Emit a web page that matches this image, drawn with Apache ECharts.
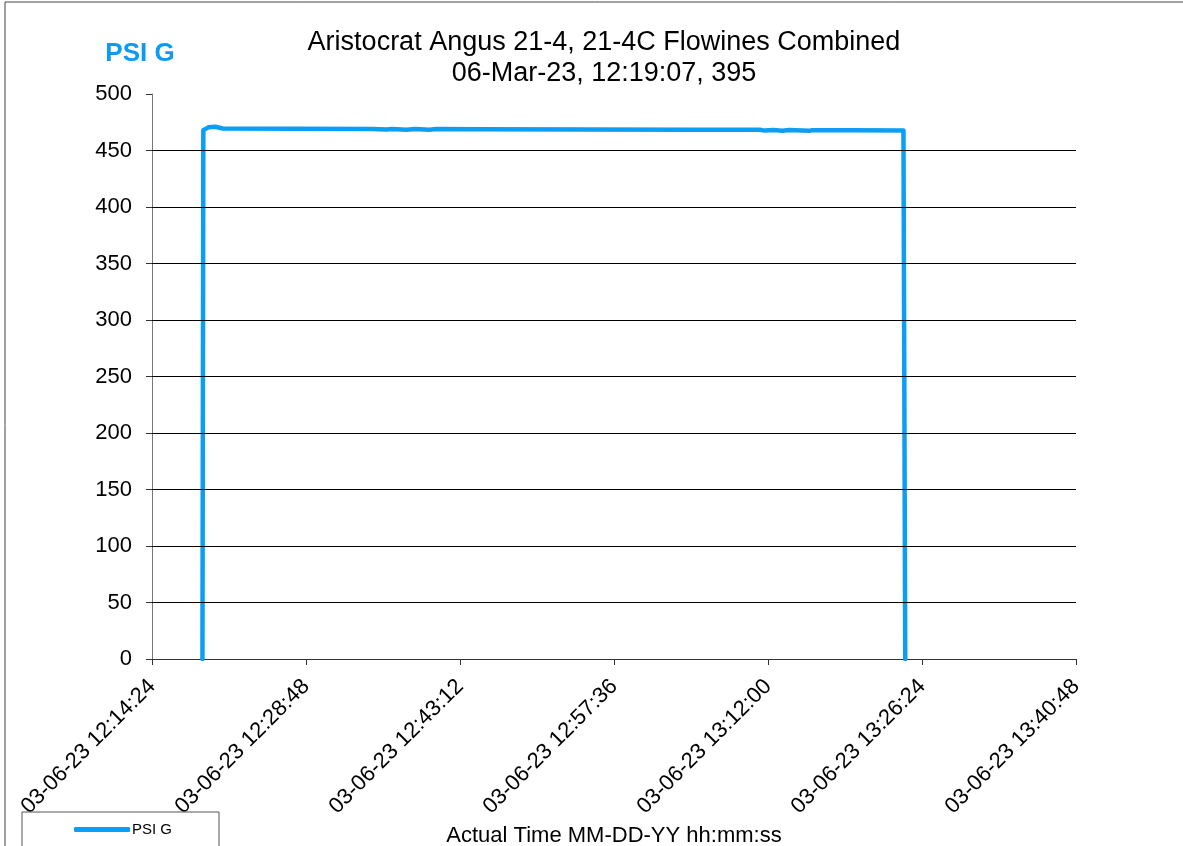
<!DOCTYPE html>
<html lang="en">
<head>
    <meta charset="UTF-8">
    <title>PSI G</title>
    <script src="https://cdn.jsdelivr.net/npm/echarts@6/dist/echarts.min.js"></script>
    <style>
        body { margin: 0; background: #fff; }
        #chartmain { width: 1183px; height: 846px; }
    </style>
</head>
<body>
<div id="chartmain"></div>
<script type="text/javascript">
    // readings taken off the recorder trace (time of day, psi)
    var times = ['12:19:07', '12:19:12', '12:19:40', '12:20:20', '12:21:00', '12:28:00', '12:35:00',
        '12:36:20', '12:36:50', '12:38:10', '12:39:00', '12:40:20', '12:41:00', '12:45:00',
        '12:55:00', '13:05:00', '13:11:15', '13:11:40', '13:12:30', '13:13:20', '13:14:00',
        '13:15:50', '13:16:10', '13:20:00', '13:24:40', '13:24:50'];
    var psi = [0, 468, 470.5, 471, 469.5, 469.3, 469.1,
        468.5, 469, 468.4, 469, 468.3, 469, 468.7,
        468.6, 468.4, 468.3, 467.6, 468.2, 467.5, 468.1,
        467.4, 468, 467.9, 467.7, 0];
    var yGrid = [50, 100, 150, 200, 250, 300, 350, 400, 450];
    var xMin = '12:14:24', xMax = '13:40:48', xStep = 864; // seconds
    var datePrefix = '03-06-23 ';

    function toSec(s) {
        var p = s.split(':');
        return (+p[0]) * 3600 + (+p[1]) * 60 + (+p[2]);
    }
    function pad(n) { return (n < 10 ? '0' : '') + n; }
    function fmt(v) {
        var h = Math.floor(v / 3600), m = Math.floor((v % 3600) / 60), s = Math.round(v % 60);
        return datePrefix + pad(h) + ':' + pad(m) + ':' + pad(s);
    }

    var pts = [];
    for (var i = 0; i < times.length; i++) {
        pts.push([toSec(times[i]), psi[i]]);
    }
    var gridMarks = [];
    for (var j = 0; j < yGrid.length; j++) {
        gridMarks.push({ yAxis: yGrid[j] });
    }

    var myChart = echarts.init(document.getElementById('chartmain'));
    var option = {
        backgroundColor: '#fff',
        textStyle: { fontFamily: 'Liberation Sans, Arial, sans-serif' },
        title: {
            text: 'Aristocrat Angus 21-4, 21-4C Flowines Combined\n06-Mar-23, 12:19:07, 395',
            left: 599,
            top: 22,
            textAlign: 'center',
            textStyle: { fontSize: 27, fontWeight: 'normal', color: '#000', lineHeight: 31 }
        },
        legend: {
            left: 22,
            top: 812,
            padding: [10, 47, 20, 52],
            borderColor: '#555',
            borderWidth: 1,
            backgroundColor: '#fff',
            icon: 'roundRect',
            itemWidth: 56,
            itemHeight: 5,
            itemGap: 4,
            textStyle: { fontSize: 15, color: '#000', padding: [0, 0, 0, -3] },
            data: ['PSI G']
        },
        grid: { left: 152, right: 107, top: 94, bottom: 187, containLabel: false, outerBoundsMode: 'none' },
        xAxis: {
            type: 'value',
            min: toSec(xMin),
            max: toSec(xMax),
            interval: xStep,
            name: 'Actual Time MM-DD-YY hh:mm:ss',
            nameLocation: 'middle',
            nameGap: 162,
            nameTextStyle: { fontSize: 22, color: '#000' },
            axisLine: { lineStyle: { color: '#333', width: 1 } },
            axisTick: { show: true, length: 6, lineStyle: { color: '#333' } },
            axisLabel: {
                rotate: 45,
                margin: 24,
                fontSize: 22,
                color: '#000',
                formatter: function (v) { return fmt(v); }
            },
            splitLine: { show: false }
        },
        yAxis: {
            type: 'value',
            min: 0,
            max: 500,
            interval: 50,
            name: 'PSI G',
            nameLocation: 'end',
            nameGap: 27,
            nameTextStyle: { fontSize: 26, fontWeight: 'bold', color: '#0a9cf5', padding: [0, 24, 0, 0] },
            axisLine: { show: true, lineStyle: { color: '#777', width: 1 } },
            axisTick: { show: true, length: 6, lineStyle: { color: '#333' } },
            axisLabel: { fontSize: 22, color: '#000', margin: 20 },
            splitLine: { show: false }
        },
        graphic: [{
            type: 'rect',
            shape: { x: 5, y: 2, width: 1300, height: 1000 },
            style: { fill: 'none', stroke: '#444', lineWidth: 1 },
            silent: true,
            z: -1
        }],
        series: [{
            name: 'PSI G',
            type: 'line',
            data: pts,
            showSymbol: false,
            lineStyle: { color: '#0a9ff5', width: 4.5, cap: 'round', join: 'round' },
            itemStyle: { color: '#0a9ff5' },
            markLine: {
                silent: true,
                symbol: 'none',
                label: { show: false },
                lineStyle: { color: '#000', width: 1, type: 'solid' },
                emphasis: { disabled: true },
                data: gridMarks
            }
        }]
    };
    myChart.setOption(option);
</script>
</body>
</html>
